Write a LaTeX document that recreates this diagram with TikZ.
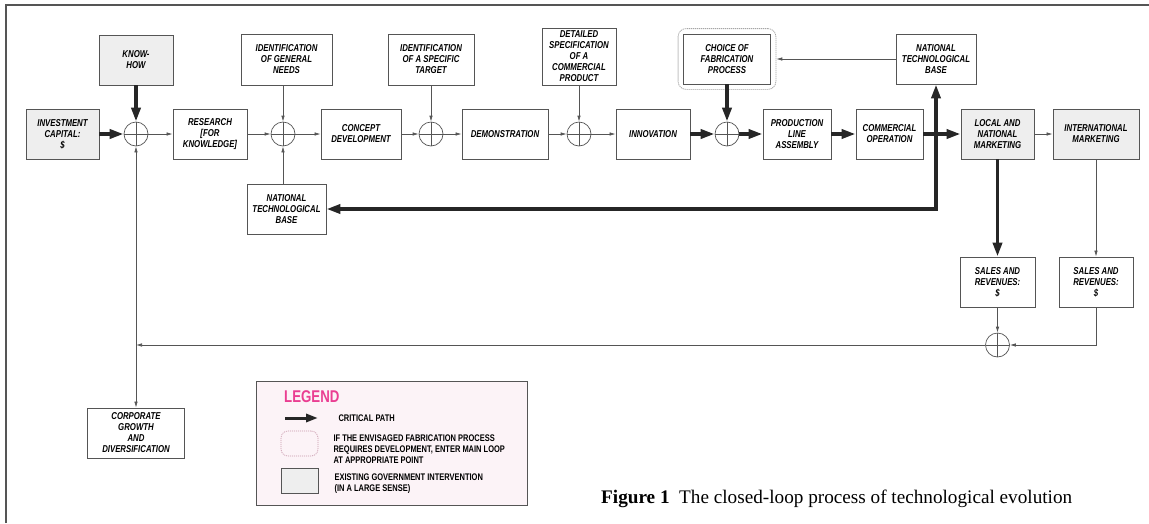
\documentclass[tikz,border=0pt]{standalone}
\usepackage{fontspec}
\setmainfont{Liberation Serif}
\newfontfamily\boxfont[FakeStretch=0.78]{Liberation Sans}
\usetikzlibrary{positioning}
\usetikzlibrary{arrows.meta}
\usetikzlibrary{fit}

\definecolor{linegray}{RGB}{85,85,85}
\definecolor{govfill}{RGB}{238,238,238}
\definecolor{legfill}{RGB}{252,243,247}
\definecolor{legpink}{RGB}{234,62,146}
\definecolor{dotpink}{RGB}{200,150,170}

\tikzset{
  stage/.style={draw=linegray, line width=0.8pt, fill=white, align=center, inner sep=1pt,
    font=\boxfont\bfseries\itshape\fontsize{10}{11}\selectfont, minimum height=50pt},
  gov/.style={stage, fill=govfill},
  sumpt/.style={circle, draw=linegray, line width=0.7pt, minimum size=24pt, inner sep=0pt,
    path picture={\draw[linegray, line width=0.6pt]
      (path picture bounding box.north) -- (path picture bounding box.south)
      (path picture bounding box.west) -- (path picture bounding box.east);}},
  arr/.style={draw=linegray, line width=0.7pt, -{Latex[length=6pt,width=3.5pt]}},
  crit/.style={draw=black!85, line width=3.5pt, -{Triangle[length=14pt,width=9pt]}},
  dashbox/.style={draw=gray!70, line width=0.8pt, dash pattern=on 1.2pt off 0.8pt, rounded corners=8pt},
  legtext/.style={anchor=west, align=left, font=\boxfont\bfseries\fontsize{9.6}{11}\selectfont}
}

\begin{document}
\begin{tikzpicture}[x=1pt, y=-1pt]

    \useasboundingbox (0,0) rectangle (1149,523);
    \draw[linegray, line width=1.2pt] (6,523) -- (6,5) -- (1149,5);

    % main row
    \node[gov, minimum width=73pt] (inv) at (62.5,134) {INVESTMENT\\CAPITAL:\\\$};
    \node[gov, minimum width=74pt] (know) at (136,60) {KNOW-\\HOW};
    \node[sumpt] (c1) at (136,134) {};
    \node[stage, minimum width=74pt] (res) at (210,134) {RESEARCH\\{[FOR}\\KNOWLEDGE]};
    \node[sumpt] (c2) at (283,134) {};
    \node[stage, minimum width=91pt, minimum height=51pt] (needs) at (286.5,59.5) {IDENTIFICATION\\OF GENERAL\\NEEDS};
    \node[stage, minimum width=79pt] (ntbB) at (286.5,209) {NATIONAL\\TECHNOLOGICAL\\BASE};
    \node[stage, minimum width=80pt] (con) at (361,134) {CONCEPT\\DEVELOPMENT};
    \node[sumpt] (c3) at (431,134) {};
    \node[stage, minimum width=86pt, minimum height=51pt] (target) at (431,59.5) {IDENTIFICATION\\OF A SPECIFIC\\TARGET};
    \node[stage, minimum width=86pt] (demo) at (505,134) {DEMONSTRATION};
    \node[sumpt] (c4) at (579,134) {};
    \node[stage, minimum width=74pt, minimum height=57pt] (spec) at (579,56.5) {DETAILED\\SPECIFICATION\\OF A\\COMMERCIAL\\PRODUCT};
    \node[stage, minimum width=74pt] (inno) at (653,134) {INNOVATION};
    \node[sumpt] (c5) at (727,134) {};
    \node[stage, minimum width=87pt] (choice) at (727,59) {CHOICE OF\\FABRICATION\\PROCESS};
    \node[dashbox, fit=(choice), inner sep=5pt] (choicefr) {};
    \node[stage, minimum width=68pt] (prod) at (797,134) {PRODUCTION\\LINE\\ASSEMBLY};
    \node[stage, minimum width=67pt] (com) at (889.5,134) {COMMERCIAL\\OPERATION};
    \node[stage, minimum width=80pt] (ntbA) at (936,59) {NATIONAL\\TECHNOLOGICAL\\BASE};
    \node[gov, minimum width=73pt] (loc) at (997.5,134) {LOCAL AND\\NATIONAL\\MARKETING};
    \node[gov, minimum width=86pt] (intl) at (1096,134) {INTERNATIONAL\\MARKETING};

    % returns
    \node[stage, minimum width=75pt] (sal1) at (997.5,282) {SALES AND\\REVENUES:\\\$};
    \node[stage, minimum width=74pt] (sal2) at (1096,282) {SALES AND\\REVENUES:\\\$};
    \node[sumpt] (c6) at (997.5,345) {};
    \coordinate (fb) at (136,345);
    \node[stage, minimum width=97pt] (corp) at (136,433) {CORPORATE\\GROWTH\\AND\\DIVERSIFICATION};

    \foreach \a/\b in {c1/res, res/c2, c2/con, con/c3, c3/demo, demo/c4, c4/inno, loc/intl, intl/sal2, sal1/c6, c6/fb, fb/c1, fb/corp}
        \draw[arr] (\a) -- (\b);
    \foreach \a/\b in {needs/c2, target/c3, spec/c4}
        \draw[arr] (\b |- \a.south) -- (\b);
    \draw[arr] (c2 |- ntbB.north) -- (c2);
    \draw[arr] (ntbA.west) -- (choicefr.east);
    \draw[arr] (sal2.south) |- (c6.east);

    \foreach \a/\b in {inv/c1, know/c1, inno/c5, choice/c5, c5/prod, prod/com, com/loc, loc/sal1}
        \draw[crit] (\a) -- (\b);
    \draw[crit, {Triangle[length=14pt,width=9pt]}-{Triangle[length=14pt,width=9pt]}] (ntbB.east) -| (ntbA.south);

    % legend
    \node[draw=linegray, fill=legfill, line width=0.8pt, minimum width=271pt, minimum height=124pt] (legend) at (391.5,443) {};
    \node[anchor=west, text=legpink, inner sep=0pt, font=\boxfont\bfseries\fontsize{17}{17}\selectfont] (legtitle) at (284,397) {LEGEND};
    \coordinate (legA) at (285,418);
    \coordinate (legB) at (318,418);
    \draw[crit, line width=3pt, -{Triangle[length=12pt,width=8pt]}] (legA) -- (legB);
    \node[legtext] (legcrit) at (335,418) {CRITICAL PATH};
    \node[draw=dotpink, line width=0.7pt, dash pattern=on 1pt off 1pt, rounded corners=7pt, minimum width=37pt, minimum height=25pt] (legdash) at (299.5,443.5) {};
    \node[legtext] (legdev) at (330,449) {IF THE ENVISAGED FABRICATION PROCESS\\REQUIRES DEVELOPMENT, ENTER MAIN LOOP\\AT APPROPRIATE POINT};
    \node[gov, minimum width=37pt, minimum height=25pt] (leggov) at (299.5,480.5) {};
    \node[legtext] (leggovt) at (331,483.5) {EXISTING GOVERNMENT INTERVENTION\\(IN A LARGE SENSE)};

    \node[anchor=base west, inner sep=0pt, font=\fontsize{19.2}{21}\selectfont] (caption) at (601,503) {\textbf{Figure 1}\enspace The closed-loop process of technological evolution};

\end{tikzpicture}
\end{document}
